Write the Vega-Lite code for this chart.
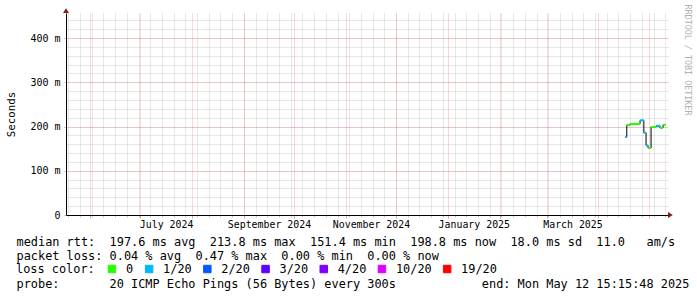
{
  "$schema": "https://vega.github.io/schema/vega-lite/v6.json",
  "width": 602,
  "height": 202,
  "autosize": {"type": "none"},
  "padding": {"left": 66, "top": 13, "right": 29, "bottom": 82},
  "background": "white",
  "config": {"view": {"stroke": null}, "font": "DejaVu Sans Mono"},
  "data": {
    "values": [
      {"t": "2025-04-17T03:00", "t2": "2025-04-17T23:30", "rtt": 176, "loss": "1/20"},
      {"t": "2025-04-17T23:30", "t2": "2025-04-19T23:00", "rtt": 203, "loss": "0"},
      {"t": "2025-04-19T23:00", "t2": "2025-04-25T22:00", "rtt": 206, "loss": "0"},
      {"t": "2025-04-25T22:00", "t2": "2025-04-28T05:00", "rtt": 213.8, "loss": "1/20"},
      {"t": "2025-04-28T05:00", "t2": "2025-04-29T12:00", "rtt": 186, "loss": "1/20"},
      {"t": "2025-04-29T12:00", "t2": "2025-04-30T17:00", "rtt": 157, "loss": "1/20"},
      {"t": "2025-04-30T17:00", "t2": "2025-05-02T12:00", "rtt": 151.4, "loss": "0"},
      {"t": "2025-05-02T12:00", "t2": "2025-05-05T12:00", "rtt": 199, "loss": "0"},
      {"t": "2025-05-05T12:00", "t2": "2025-05-07T21:00", "rtt": 201.5, "loss": "1/20"},
      {"t": "2025-05-07T21:00", "t2": "2025-05-09T16:00", "rtt": 197, "loss": "0"},
      {"t": "2025-05-09T16:00", "t2": "2025-05-11T12:00", "rtt": 204, "loss": "0"}
    ]
  },
  "layer": [
    {
      "mark": {"type": "line", "interpolate": "step-after", "color": "black", "strokeWidth": 1},
      "encoding": {
        "x": {
          "field": "t", "type": "temporal",
          "scale": {"domain": [{"year": 2024, "month": 5, "date": 17, "hours": 15, "minutes": 15, "seconds": 48}, {"year": 2025, "month": 5, "date": 12, "hours": 15, "minutes": 15, "seconds": 48}]},
          "axis": {"orient": "bottom", "tickCount": {"interval": "week", "step": 1}, "labels": false, "domain": false, "ticks": true, "tickSize": 2, "tickColor": "#c8c8c8", "grid": true, "gridColor": "#8f8f8f", "gridOpacity": 0.4, "gridDash": [1, 1],
            "title": "probe:\u00a0\u00a0\u00a0\u00a0\u00a0\u00a0\u00a020\u00a0ICMP\u00a0Echo\u00a0Pings\u00a0(56\u00a0Bytes)\u00a0every\u00a0300s\u00a0\u00a0\u00a0\u00a0\u00a0\u00a0\u00a0\u00a0\u00a0\u00a0\u00a0\u00a0end:\u00a0Mon\u00a0May\u00a012\u00a015:15:48\u00a02025",
            "titleX": -50, "titleY": 72.7, "titleAlign": "left", "titleBaseline": "alphabetic", "titleFontSize": 11.9, "titleFontWeight": "normal", "titleColor": "black", "titleLimit": 2000}
        },
        "y": {
          "field": "rtt", "type": "quantitative",
          "scale": {"domain": [0, 456.5], "nice": false, "zero": true},
          "axis": {"orient": "right", "values": [0, 20, 40, 60, 80, 100, 120, 140, 160, 180, 200, 220, 240, 260, 280, 300, 320, 340, 360, 380, 400, 420, 440], "labels": false, "domain": false, "ticks": false, "grid": true, "gridColor": "#8f8f8f", "gridOpacity": 0.4, "gridDash": [1, 1],
            "title": "RRDTOOL / TOBI OETIKER", "titleAngle": 90, "titleX": 16, "titleY": -9, "titleAlign": "left", "titleBaseline": "alphabetic", "titleFontSize": 8.4, "titleFontWeight": "normal", "titleColor": "#b0b0b0"}
        }
      }
    },
    {
      "mark": {"type": "rule", "strokeWidth": 2},
      "encoding": {
        "x": {
          "field": "t", "type": "temporal",
          "scale": {"domain": [{"year": 2024, "month": 5, "date": 17, "hours": 15, "minutes": 15, "seconds": 48}, {"year": 2025, "month": 5, "date": 12, "hours": 15, "minutes": 15, "seconds": 48}]},
          "axis": {"orient": "bottom", "tickCount": {"interval": "month", "step": 1}, "labels": false, "domain": false, "ticks": true, "tickSize": 3, "tickColor": "#eaa0a0", "grid": true, "gridColor": "#de4f4f", "gridOpacity": 0.45, "gridDash": [1, 1], "title": null}
        },
        "x2": {"field": "t2"},
        "y": {
          "field": "rtt", "type": "quantitative",
          "scale": {"domain": [0, 456.5], "nice": false, "zero": true},
          "axis": {"orient": "left", "values": [0, 100, 200, 300, 400], "labelExpr": "datum.value == 0 ? '0' : datum.value + ' m'", "labelFontSize": 10, "labelColor": "black", "labelPadding": 4, "domain": true, "domainColor": "#000000", "ticks": true, "tickSize": 2, "tickColor": "#eaa0a0", "grid": true, "gridColor": "#de4f4f", "gridOpacity": 0.45, "gridDash": [1, 1],
            "title": "Seconds", "titleAngle": -90, "titleX": -51.3, "titleY": 101, "titleAlign": "center", "titleBaseline": "alphabetic", "titleFontSize": 10.8, "titleFontWeight": "normal", "titleColor": "black"}
        },
        "color": {
          "field": "loss", "type": "nominal",
          "scale": {"domain": ["0", "1/20", "2/20", "3/20", "4/20", "10/20", "19/20"], "range": ["#26ff00", "#00b8ff", "#0059ff", "#5e00ff", "#7e00ff", "#dd00ff", "#ff0000"]},
          "legend": {
            "orient": "none", "legendX": -50, "legendY": 250, "direction": "horizontal", "padding": 0,
            "title": "loss color:", "titleOrient": "left", "titleFontSize": 11.9, "titleFontWeight": "normal", "titleColor": "black", "titlePadding": 11, "titleBaseline": "middle", "titleAnchor": "middle",
            "symbolType": "square", "symbolSize": 56, "symbolStrokeColor": "black", "symbolStrokeWidth": 1, "symbolOpacity": 1,
            "labelFontSize": 11.9, "labelColor": "black", "labelOffset": 8, "columnPadding": 9.2,
            "encode": {"symbols": {"update": {"fill": {"scale": "color", "field": "value"}, "stroke": {"value": "black"}, "strokeWidth": {"value": 1}, "shape": {"value": "square"}, "size": {"value": 56}, "opacity": {"value": 1}, "fillOpacity": {"value": 1}, "strokeOpacity": {"value": 1}}}}
          }
        }
      }
    },
    {
      "data": {"values": [{}]},
      "mark": {"type": "point", "shape": "M0,-1L0,1L1.6,0Z", "size": 36, "filled": true, "color": "#801f1f", "opacity": 1},
      "encoding": {
        "x": {
          "datum": {"year": 2025, "month": 5, "date": 12, "hours": 15, "minutes": 15, "seconds": 48}, "type": "temporal",
          "scale": {"domain": [{"year": 2024, "month": 5, "date": 17, "hours": 15, "minutes": 15, "seconds": 48}, {"year": 2025, "month": 5, "date": 12, "hours": 15, "minutes": 15, "seconds": 48}]},
          "axis": {
            "orient": "bottom",
            "values": [{"year": 2024, "month": 7, "date": 16, "hours": 12}, {"year": 2024, "month": 9, "date": 16}, {"year": 2024, "month": 11, "date": 16}, {"year": 2025, "month": 1, "date": 16, "hours": 12}, {"year": 2025, "month": 3, "date": 16, "hours": 12}],
            "format": "%B %Y", "labelFontSize": 9.9, "labelColor": "black", "labelBaseline": "alphabetic", "labelPadding": 12.5, "labelFlush": false, "labelOverlap": false,
            "ticks": false, "grid": false, "domain": true, "domainColor": "#000000",
            "title": ["median\u00a0rtt:\u00a0\u00a0197.6\u00a0ms\u00a0avg\u00a0\u00a0213.8\u00a0ms\u00a0max\u00a0\u00a0151.4\u00a0ms\u00a0min\u00a0\u00a0198.8\u00a0ms\u00a0now\u00a0\u00a018.0\u00a0ms\u00a0sd\u00a0\u00a011.0\u00a0\u00a0\u00a0am/s", "packet\u00a0loss:\u00a00.04\u00a0%\u00a0avg\u00a0\u00a00.47\u00a0%\u00a0max\u00a0\u00a00.00\u00a0%\u00a0min\u00a0\u00a00.00\u00a0%\u00a0now"],
            "titleX": -50, "titleY": 30.7, "titleAlign": "left", "titleBaseline": "alphabetic", "titleFontSize": 11.9, "titleFontWeight": "normal", "titleColor": "black", "titleLineHeight": 14, "titleLimit": 2000
          }
        },
        "y": {"datum": 0, "type": "quantitative", "scale": {"domain": [0, 456.5], "nice": false, "zero": true}, "axis": null}
      }
    },
    {
      "data": {"values": [{}]},
      "mark": {"type": "point", "shape": "M-1,0L1,0L0,-1.6Z", "size": 36, "filled": true, "color": "#801f1f", "opacity": 1},
      "encoding": {
        "x": {
          "datum": {"year": 2024, "month": 5, "date": 17, "hours": 15, "minutes": 15, "seconds": 48}, "type": "temporal",
          "scale": {"domain": [{"year": 2024, "month": 5, "date": 17, "hours": 15, "minutes": 15, "seconds": 48}, {"year": 2025, "month": 5, "date": 12, "hours": 15, "minutes": 15, "seconds": 48}]},
          "axis": null
        },
        "y": {"datum": 456.5, "type": "quantitative", "scale": {"domain": [0, 456.5], "nice": false, "zero": true}, "axis": null}
      }
    }
  ],
  "resolve": {"axis": {"x": "independent", "y": "independent"}}
}
